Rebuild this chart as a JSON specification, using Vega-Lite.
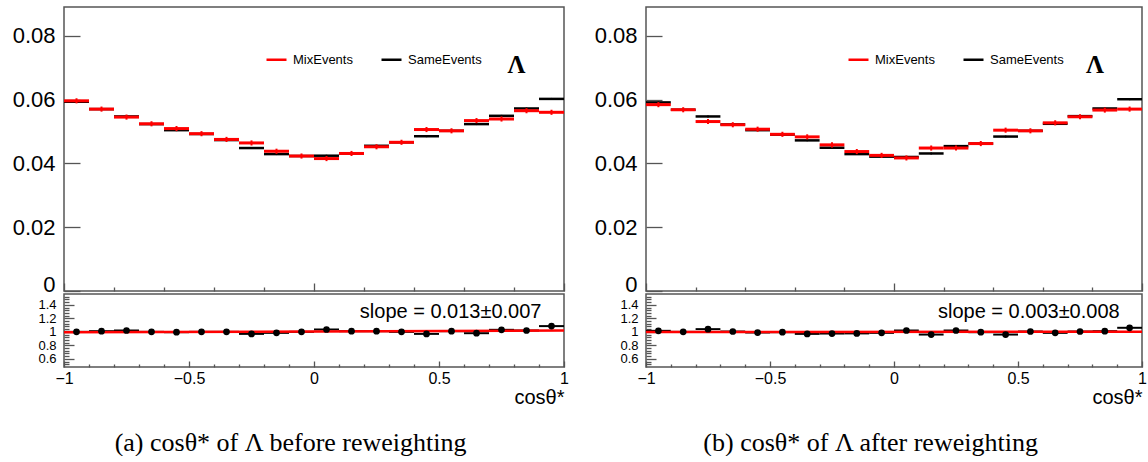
{
  "$schema": "https://vega.github.io/schema/vega-lite/v6.json",
  "background": "white",
  "padding": {"left": 11, "top": 6, "right": 0, "bottom": 0},
  "config": {
    "view": {"stroke": "#555", "strokeWidth": 1.5},
    "axis": {"labelFont": "Liberation Sans", "titleFont": "Liberation Sans", "labelColor": "black", "titleColor": "black", "tickColor": "#555", "tickWidth": 1.3, "grid": false, "domain": false, "titleFontWeight": "normal", "labelOverlap": false}
  },
  "datasets": {
    "a": [
      {"x0": -1.0, "x1": -0.9, "xc": -0.95, "mix": 0.0596, "mixLo": 0.0588, "mixHi": 0.0604, "same": 0.0593, "sameLo": 0.0590, "sameHi": 0.0596, "r": 1.0},
      {"x0": -0.9, "x1": -0.8, "xc": -0.85, "mix": 0.0570, "mixLo": 0.0562, "mixHi": 0.0578, "same": 0.0570, "sameLo": 0.0567, "sameHi": 0.0573, "r": 1.01},
      {"x0": -0.8, "x1": -0.7, "xc": -0.75, "mix": 0.0545, "mixLo": 0.0537, "mixHi": 0.0553, "same": 0.0547, "sameLo": 0.0544, "sameHi": 0.0550, "r": 1.02},
      {"x0": -0.7, "x1": -0.6, "xc": -0.65, "mix": 0.0524, "mixLo": 0.0516, "mixHi": 0.0532, "same": 0.0523, "sameLo": 0.0520, "sameHi": 0.0526, "r": 1.0},
      {"x0": -0.6, "x1": -0.5, "xc": -0.55, "mix": 0.0509, "mixLo": 0.0501, "mixHi": 0.0517, "same": 0.0504, "sameLo": 0.0501, "sameHi": 0.0507, "r": 0.995},
      {"x0": -0.5, "x1": -0.4, "xc": -0.45, "mix": 0.0493, "mixLo": 0.0485, "mixHi": 0.0501, "same": 0.0492, "sameLo": 0.0489, "sameHi": 0.0495, "r": 1.0},
      {"x0": -0.4, "x1": -0.3, "xc": -0.35, "mix": 0.0475, "mixLo": 0.0467, "mixHi": 0.0483, "same": 0.0473, "sameLo": 0.0470, "sameHi": 0.0476, "r": 1.0},
      {"x0": -0.3, "x1": -0.2, "xc": -0.25, "mix": 0.0464, "mixLo": 0.0456, "mixHi": 0.0472, "same": 0.0448, "sameLo": 0.0445, "sameHi": 0.0451, "r": 0.97},
      {"x0": -0.2, "x1": -0.1, "xc": -0.15, "mix": 0.0438, "mixLo": 0.0430, "mixHi": 0.0446, "same": 0.0429, "sameLo": 0.0426, "sameHi": 0.0432, "r": 0.985},
      {"x0": -0.1, "x1": 0.0, "xc": -0.05, "mix": 0.0423, "mixLo": 0.0415, "mixHi": 0.0431, "same": 0.0423, "sameLo": 0.0420, "sameHi": 0.0426, "r": 1.0},
      {"x0": 0.0, "x1": 0.1, "xc": 0.05, "mix": 0.0415, "mixLo": 0.0407, "mixHi": 0.0423, "same": 0.0424, "sameLo": 0.0421, "sameHi": 0.0427, "r": 1.035},
      {"x0": 0.1, "x1": 0.2, "xc": 0.15, "mix": 0.0431, "mixLo": 0.0423, "mixHi": 0.0439, "same": 0.0431, "sameLo": 0.0428, "sameHi": 0.0434, "r": 1.01},
      {"x0": 0.2, "x1": 0.3, "xc": 0.25, "mix": 0.0452, "mixLo": 0.0444, "mixHi": 0.0460, "same": 0.0455, "sameLo": 0.0452, "sameHi": 0.0458, "r": 1.01},
      {"x0": 0.3, "x1": 0.4, "xc": 0.35, "mix": 0.0466, "mixLo": 0.0458, "mixHi": 0.0474, "same": 0.0466, "sameLo": 0.0463, "sameHi": 0.0469, "r": 1.0},
      {"x0": 0.4, "x1": 0.5, "xc": 0.45, "mix": 0.0506, "mixLo": 0.0498, "mixHi": 0.0514, "same": 0.0485, "sameLo": 0.0482, "sameHi": 0.0488, "r": 0.97},
      {"x0": 0.5, "x1": 0.6, "xc": 0.55, "mix": 0.0502, "mixLo": 0.0494, "mixHi": 0.0510, "same": 0.0502, "sameLo": 0.0499, "sameHi": 0.0505, "r": 1.01},
      {"x0": 0.6, "x1": 0.7, "xc": 0.65, "mix": 0.0534, "mixLo": 0.0526, "mixHi": 0.0542, "same": 0.0523, "sameLo": 0.0520, "sameHi": 0.0526, "r": 0.98},
      {"x0": 0.7, "x1": 0.8, "xc": 0.75, "mix": 0.0539, "mixLo": 0.0531, "mixHi": 0.0547, "same": 0.0549, "sameLo": 0.0546, "sameHi": 0.0552, "r": 1.03},
      {"x0": 0.8, "x1": 0.9, "xc": 0.85, "mix": 0.0565, "mixLo": 0.0557, "mixHi": 0.0573, "same": 0.0572, "sameLo": 0.0569, "sameHi": 0.0575, "r": 1.02},
      {"x0": 0.9, "x1": 1.0, "xc": 0.95, "mix": 0.0560, "mixLo": 0.0552, "mixHi": 0.0568, "same": 0.0602, "sameLo": 0.0599, "sameHi": 0.0605, "r": 1.085}
    ],
    "b": [
      {"x0": -1.0, "x1": -0.9, "xc": -0.95, "mix": 0.0584, "mixLo": 0.0576, "mixHi": 0.0592, "same": 0.0591, "sameLo": 0.0588, "sameHi": 0.0594, "r": 1.015},
      {"x0": -0.9, "x1": -0.8, "xc": -0.85, "mix": 0.0568, "mixLo": 0.0560, "mixHi": 0.0576, "same": 0.0568, "sameLo": 0.0565, "sameHi": 0.0571, "r": 1.0},
      {"x0": -0.8, "x1": -0.7, "xc": -0.75, "mix": 0.0531, "mixLo": 0.0523, "mixHi": 0.0539, "same": 0.0547, "sameLo": 0.0544, "sameHi": 0.0550, "r": 1.04},
      {"x0": -0.7, "x1": -0.6, "xc": -0.65, "mix": 0.0521, "mixLo": 0.0513, "mixHi": 0.0529, "same": 0.0522, "sameLo": 0.0519, "sameHi": 0.0525, "r": 1.005},
      {"x0": -0.6, "x1": -0.5, "xc": -0.55, "mix": 0.0507, "mixLo": 0.0499, "mixHi": 0.0515, "same": 0.0504, "sameLo": 0.0501, "sameHi": 0.0507, "r": 0.99},
      {"x0": -0.5, "x1": -0.4, "xc": -0.45, "mix": 0.0491, "mixLo": 0.0483, "mixHi": 0.0499, "same": 0.0490, "sameLo": 0.0487, "sameHi": 0.0493, "r": 0.995},
      {"x0": -0.4, "x1": -0.3, "xc": -0.35, "mix": 0.0483, "mixLo": 0.0475, "mixHi": 0.0491, "same": 0.0472, "sameLo": 0.0469, "sameHi": 0.0475, "r": 0.97},
      {"x0": -0.3, "x1": -0.2, "xc": -0.25, "mix": 0.0458, "mixLo": 0.0450, "mixHi": 0.0466, "same": 0.0449, "sameLo": 0.0446, "sameHi": 0.0452, "r": 0.975},
      {"x0": -0.2, "x1": -0.1, "xc": -0.15, "mix": 0.0437, "mixLo": 0.0429, "mixHi": 0.0445, "same": 0.0429, "sameLo": 0.0426, "sameHi": 0.0432, "r": 0.977},
      {"x0": -0.1, "x1": 0.0, "xc": -0.05, "mix": 0.0425, "mixLo": 0.0417, "mixHi": 0.0433, "same": 0.0421, "sameLo": 0.0418, "sameHi": 0.0424, "r": 0.985},
      {"x0": 0.0, "x1": 0.1, "xc": 0.05, "mix": 0.0417, "mixLo": 0.0409, "mixHi": 0.0425, "same": 0.0420, "sameLo": 0.0417, "sameHi": 0.0423, "r": 1.02},
      {"x0": 0.1, "x1": 0.2, "xc": 0.15, "mix": 0.0448, "mixLo": 0.0440, "mixHi": 0.0456, "same": 0.0431, "sameLo": 0.0428, "sameHi": 0.0434, "r": 0.96},
      {"x0": 0.2, "x1": 0.3, "xc": 0.25, "mix": 0.0448, "mixLo": 0.0440, "mixHi": 0.0456, "same": 0.0454, "sameLo": 0.0451, "sameHi": 0.0457, "r": 1.02},
      {"x0": 0.3, "x1": 0.4, "xc": 0.35, "mix": 0.0462, "mixLo": 0.0454, "mixHi": 0.0470, "same": 0.0462, "sameLo": 0.0459, "sameHi": 0.0465, "r": 0.995},
      {"x0": 0.4, "x1": 0.5, "xc": 0.45, "mix": 0.0504, "mixLo": 0.0496, "mixHi": 0.0512, "same": 0.0484, "sameLo": 0.0481, "sameHi": 0.0487, "r": 0.96},
      {"x0": 0.5, "x1": 0.6, "xc": 0.55, "mix": 0.0502, "mixLo": 0.0494, "mixHi": 0.0510, "same": 0.0502, "sameLo": 0.0499, "sameHi": 0.0505, "r": 1.005},
      {"x0": 0.6, "x1": 0.7, "xc": 0.65, "mix": 0.0527, "mixLo": 0.0519, "mixHi": 0.0535, "same": 0.0524, "sameLo": 0.0521, "sameHi": 0.0527, "r": 0.985},
      {"x0": 0.7, "x1": 0.8, "xc": 0.75, "mix": 0.0546, "mixLo": 0.0538, "mixHi": 0.0554, "same": 0.0548, "sameLo": 0.0545, "sameHi": 0.0551, "r": 1.005},
      {"x0": 0.8, "x1": 0.9, "xc": 0.85, "mix": 0.0567, "mixLo": 0.0559, "mixHi": 0.0575, "same": 0.0572, "sameLo": 0.0569, "sameHi": 0.0575, "r": 1.01},
      {"x0": 0.9, "x1": 1.0, "xc": 0.95, "mix": 0.0570, "mixLo": 0.0562, "mixHi": 0.0578, "same": 0.0601, "sameLo": 0.0598, "sameHi": 0.0604, "r": 1.06}
    ],
    "fa": [{"x": -1, "fit": 0.993}, {"x": 1, "fit": 1.019}],
    "fb": [{"x": -1, "fit": 0.997}, {"x": 1, "fit": 1.003}]
  },
  "resolve": {"scale": {"color": "independent"}, "legend": {"color": "independent"}},
  "spacing": 23,
  "hconcat": [
    {
      "title": {"text": "(a) cosθ* of Λ before reweighting", "orient": "bottom", "anchor": "middle", "font": "Liberation Serif", "fontSize": 26, "fontWeight": "normal", "color": "black", "offset": 22},
      "bounds": "flush",
      "spacing": 3,
      "vconcat": [
        {
          "width": 500, "height": 284,
          "layer": [
            {"data": {"name": "a"}, "mark": {"type": "rule", "strokeWidth": 2.5},
             "encoding": {
               "x": {"field": "x0", "type": "quantitative", "scale": {"domain": [-1, 1], "nice": false},
                     "axis": {"values": [-1,-0.9,-0.8,-0.7,-0.6,-0.5,-0.4,-0.3,-0.2,-0.1,0,0.1,0.2,0.3,0.4,0.5,0.6,0.7,0.8,0.9,1], "labels": false, "title": null,
                              "tickSize": {"condition": {"test": "abs(datum.value*2 - round(datum.value*2)) < 1e-6", "value": -8}, "value": -4}}},
               "x2": {"field": "x1"},
               "y": {"field": "same", "type": "quantitative", "scale": {"domain": [0, 0.089], "nice": false, "zero": false},
                     "axis": {"values": [0,0.005,0.01,0.015,0.02,0.025,0.03,0.035,0.04,0.045,0.05,0.055,0.06,0.065,0.07,0.075,0.08,0.085], "title": null, "labelOverlap": false,
                              "labelExpr": "abs(datum.value*50 - round(datum.value*50)) < 1e-6 ? (datum.value == 0 ? '0' : format(datum.value, '.2f')) : ''",
                              "labelBaseline": {"condition": {"test": "datum.value == 0", "value": "alphabetic"}, "value": "middle"},
                              "labelFontSize": 22, "labelPadding": 25,
                              "tickSize": {"condition": {"test": "abs(datum.value*50 - round(datum.value*50)) < 1e-6", "value": -16}, "value": -8}}},
               "color": {"datum": "SameEvents", "type": "nominal", "scale": {"domain": ["MixEvents", "SameEvents"], "range": ["#ff0000", "#000000"]},
                         "legend": {"orient": "none", "legendX": 201, "legendY": 41, "direction": "horizontal", "title": null, "symbolType": "stroke", "symbolSize": 400, "symbolStrokeWidth": 2.5, "labelFont": "Liberation Sans", "labelFontSize": 13, "labelColor": "black", "columnPadding": 23, "labelOffset": 5}}
             }},
            {"data": {"name": "a"}, "mark": {"type": "rule", "strokeWidth": 1.5},
             "encoding": {"x": {"field": "xc", "type": "quantitative"}, "y": {"field": "sameLo", "type": "quantitative"}, "y2": {"field": "sameHi"}, "color": {"datum": "SameEvents", "type": "nominal"}}},
            {"data": {"name": "a"}, "mark": {"type": "rule", "strokeWidth": 3},
             "encoding": {"x": {"field": "x0", "type": "quantitative"}, "x2": {"field": "x1"}, "y": {"field": "mix", "type": "quantitative"}, "color": {"datum": "MixEvents", "type": "nominal"}}},
            {"data": {"name": "a"}, "mark": {"type": "rule", "strokeWidth": 2},
             "encoding": {"x": {"field": "xc", "type": "quantitative"}, "y": {"field": "mixLo", "type": "quantitative"}, "y2": {"field": "mixHi"}, "color": {"datum": "MixEvents", "type": "nominal"}}},
            {"data": {"values": [{}]}, "mark": {"type": "text", "font": "Liberation Serif", "fontSize": 25, "fontWeight": "bold", "color": "black", "align": "center", "baseline": "middle"},
             "encoding": {"x": {"datum": 0.81, "type": "quantitative"}, "y": {"datum": 0.0708, "type": "quantitative"}, "text": {"value": "Λ"}}}
          ]
        },
        {
          "width": 500, "height": 73,
          "resolve": {"axis": {"x": "independent", "y": "independent"}},
          "layer": [
            {"data": {"name": "a"}, "mark": {"type": "rule", "color": "black", "strokeWidth": 2},
             "encoding": {
               "x": {"field": "x0", "type": "quantitative", "scale": {"domain": [-1, 1], "nice": false},
                     "axis": {"orient": "bottom", "values": [-1, -0.5, 0, 0.5, 1], "format": "~g", "title": "cosθ*", "titleAnchor": "end", "titleAlign": "right", "titleFontSize": 20, "titlePadding": 1, "labelOverlap": false, "labelFlush": false, "labelFontSize": 16, "labelPadding": 9, "tickSize": -6}},
               "x2": {"field": "x1"},
               "y": {"field": "r", "type": "quantitative", "scale": {"domain": [0.48, 1.56], "nice": false, "zero": false},
                     "axis": {"orient": "left", "values": [0.6, 0.8, 1, 1.2, 1.4], "format": "~g", "title": null, "labelOverlap": false, "labelFontSize": 13, "labelPadding": 18, "tickSize": -10}}
             }},
            {"data": {"name": "fa"}, "mark": {"type": "line", "color": "#ff0000", "strokeWidth": 2.5},
             "encoding": {"x": {"field": "x", "type": "quantitative", "axis": null}, "y": {"field": "fit", "type": "quantitative", "axis": null}}},
            {"data": {"name": "a"}, "mark": {"type": "circle", "color": "black", "opacity": 1, "size": 45},
             "encoding": {
               "x": {"field": "xc", "type": "quantitative", "axis": {"orient": "bottom", "values": [-0.9,-0.8,-0.7,-0.6,-0.4,-0.3,-0.2,-0.1,0.1,0.2,0.3,0.4,0.6,0.7,0.8,0.9], "labels": false, "title": null, "tickSize": -3}},
               "y": {"field": "r", "type": "quantitative", "axis": {"orient": "left", "values": [0.52,0.56,0.64,0.68,0.72,0.76,0.84,0.88,0.92,0.96,1.04,1.08,1.12,1.16,1.24,1.28,1.32,1.36,1.44,1.48,1.52], "labels": false, "title": null, "tickSize": -5}}
             }},
            {"data": {"values": [{}]}, "mark": {"type": "text", "font": "Liberation Sans", "fontSize": 20, "color": "black", "align": "right", "baseline": "alphabetic"},
             "encoding": {"x": {"datum": 0.91, "type": "quantitative", "axis": null}, "y": {"datum": 1.2, "type": "quantitative", "axis": null}, "text": {"value": "slope = 0.013±0.007"}}}
          ]
        }
      ]
    },
    {
      "title": {"text": "(b) cosθ* of Λ after reweighting", "orient": "bottom", "anchor": "middle", "font": "Liberation Serif", "fontSize": 26, "fontWeight": "normal", "color": "black", "offset": 22},
      "bounds": "flush",
      "spacing": 3,
      "vconcat": [
        {
          "width": 496, "height": 284,
          "layer": [
            {"data": {"name": "b"}, "mark": {"type": "rule", "strokeWidth": 2.5},
             "encoding": {
               "x": {"field": "x0", "type": "quantitative", "scale": {"domain": [-1, 1], "nice": false},
                     "axis": {"values": [-1,-0.9,-0.8,-0.7,-0.6,-0.5,-0.4,-0.3,-0.2,-0.1,0,0.1,0.2,0.3,0.4,0.5,0.6,0.7,0.8,0.9,1], "labels": false, "title": null,
                              "tickSize": {"condition": {"test": "abs(datum.value*2 - round(datum.value*2)) < 1e-6", "value": -8}, "value": -4}}},
               "x2": {"field": "x1"},
               "y": {"field": "same", "type": "quantitative", "scale": {"domain": [0, 0.089], "nice": false, "zero": false},
                     "axis": {"values": [0,0.005,0.01,0.015,0.02,0.025,0.03,0.035,0.04,0.045,0.05,0.055,0.06,0.065,0.07,0.075,0.08,0.085], "title": null, "labelOverlap": false,
                              "labelExpr": "abs(datum.value*50 - round(datum.value*50)) < 1e-6 ? (datum.value == 0 ? '0' : format(datum.value, '.2f')) : ''",
                              "labelBaseline": {"condition": {"test": "datum.value == 0", "value": "alphabetic"}, "value": "middle"},
                              "labelFontSize": 22, "labelPadding": 25,
                              "tickSize": {"condition": {"test": "abs(datum.value*50 - round(datum.value*50)) < 1e-6", "value": -16}, "value": -8}}},
               "color": {"datum": "SameEvents", "type": "nominal", "scale": {"domain": ["MixEvents", "SameEvents"], "range": ["#ff0000", "#000000"]},
                         "legend": {"orient": "none", "legendX": 201, "legendY": 41, "direction": "horizontal", "title": null, "symbolType": "stroke", "symbolSize": 400, "symbolStrokeWidth": 2.5, "labelFont": "Liberation Sans", "labelFontSize": 13, "labelColor": "black", "columnPadding": 23, "labelOffset": 5}}
             }},
            {"data": {"name": "b"}, "mark": {"type": "rule", "strokeWidth": 1.5},
             "encoding": {"x": {"field": "xc", "type": "quantitative"}, "y": {"field": "sameLo", "type": "quantitative"}, "y2": {"field": "sameHi"}, "color": {"datum": "SameEvents", "type": "nominal"}}},
            {"data": {"name": "b"}, "mark": {"type": "rule", "strokeWidth": 3},
             "encoding": {"x": {"field": "x0", "type": "quantitative"}, "x2": {"field": "x1"}, "y": {"field": "mix", "type": "quantitative"}, "color": {"datum": "MixEvents", "type": "nominal"}}},
            {"data": {"name": "b"}, "mark": {"type": "rule", "strokeWidth": 2},
             "encoding": {"x": {"field": "xc", "type": "quantitative"}, "y": {"field": "mixLo", "type": "quantitative"}, "y2": {"field": "mixHi"}, "color": {"datum": "MixEvents", "type": "nominal"}}},
            {"data": {"values": [{}]}, "mark": {"type": "text", "font": "Liberation Serif", "fontSize": 25, "fontWeight": "bold", "color": "black", "align": "center", "baseline": "middle"},
             "encoding": {"x": {"datum": 0.81, "type": "quantitative"}, "y": {"datum": 0.0708, "type": "quantitative"}, "text": {"value": "Λ"}}}
          ]
        },
        {
          "width": 496, "height": 73,
          "resolve": {"axis": {"x": "independent", "y": "independent"}},
          "layer": [
            {"data": {"name": "b"}, "mark": {"type": "rule", "color": "black", "strokeWidth": 2},
             "encoding": {
               "x": {"field": "x0", "type": "quantitative", "scale": {"domain": [-1, 1], "nice": false},
                     "axis": {"orient": "bottom", "values": [-1, -0.5, 0, 0.5, 1], "format": "~g", "title": "cosθ*", "titleAnchor": "end", "titleAlign": "right", "titleFontSize": 20, "titlePadding": 1, "labelOverlap": false, "labelFlush": false, "labelFontSize": 16, "labelPadding": 9, "tickSize": -6}},
               "x2": {"field": "x1"},
               "y": {"field": "r", "type": "quantitative", "scale": {"domain": [0.48, 1.56], "nice": false, "zero": false},
                     "axis": {"orient": "left", "values": [0.6, 0.8, 1, 1.2, 1.4], "format": "~g", "title": null, "labelOverlap": false, "labelFontSize": 13, "labelPadding": 18, "tickSize": -10}}
             }},
            {"data": {"name": "fb"}, "mark": {"type": "line", "color": "#ff0000", "strokeWidth": 2.5},
             "encoding": {"x": {"field": "x", "type": "quantitative", "axis": null}, "y": {"field": "fit", "type": "quantitative", "axis": null}}},
            {"data": {"name": "b"}, "mark": {"type": "circle", "color": "black", "opacity": 1, "size": 45},
             "encoding": {
               "x": {"field": "xc", "type": "quantitative", "axis": {"orient": "bottom", "values": [-0.9,-0.8,-0.7,-0.6,-0.4,-0.3,-0.2,-0.1,0.1,0.2,0.3,0.4,0.6,0.7,0.8,0.9], "labels": false, "title": null, "tickSize": -3}},
               "y": {"field": "r", "type": "quantitative", "axis": {"orient": "left", "values": [0.52,0.56,0.64,0.68,0.72,0.76,0.84,0.88,0.92,0.96,1.04,1.08,1.12,1.16,1.24,1.28,1.32,1.36,1.44,1.48,1.52], "labels": false, "title": null, "tickSize": -5}}
             }},
            {"data": {"values": [{}]}, "mark": {"type": "text", "font": "Liberation Sans", "fontSize": 20, "color": "black", "align": "right", "baseline": "alphabetic"},
             "encoding": {"x": {"datum": 0.91, "type": "quantitative", "axis": null}, "y": {"datum": 1.2, "type": "quantitative", "axis": null}, "text": {"value": "slope = 0.003±0.008"}}}
          ]
        }
      ]
    }
  ]
}
